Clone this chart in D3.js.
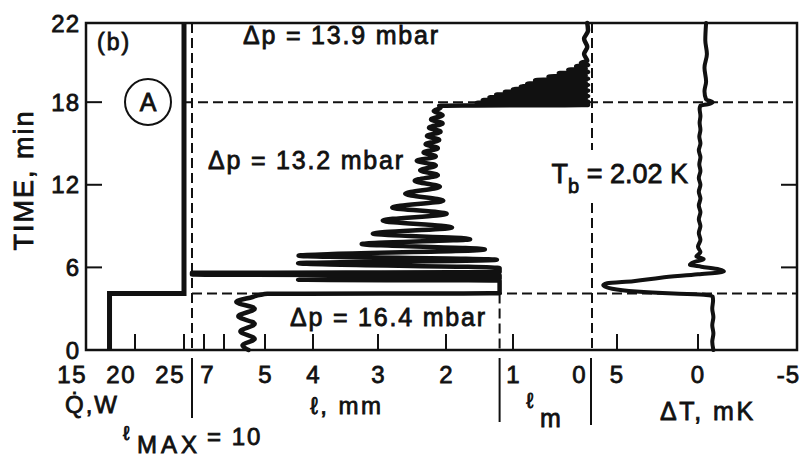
<!DOCTYPE html>
<html><head><meta charset="utf-8">
<script src="https://cdn.jsdelivr.net/npm/d3@7"></script>
<style>
html,body{margin:0;padding:0;background:#fff;}
svg{display:block;}
text{font-family:"Liberation Sans",Arial,sans-serif;font-weight:normal;fill:#111;stroke:#111;stroke-width:0.8px;}
</style></head><body>
<svg id="c" width="804" height="457"></svg>
<script>
// ---------- data ----------
const timeTicks = [0, 6, 12, 18, 23.75];
const timeTickLabels = ["0", "6", "12", "18", "22"];
const heaterTicks = [15, 20, 25];
const heaterTickLabels = ["15", "20", "25"];
const levelTicks = [7, 6, 5, 4, 3, 2];
const levelTickLabels = ["7", "", "5", "4", "3", "2"];
const meniscusTicks = [1, 0];
const meniscusTickLabels = ["1", "0"];
const deltaTTicks = [5, 0, -5];
const deltaTTickLabels = ["5", "0", "-5"];
const eventTimes = [4.1, 18];
const levelMax = 10;
const levelSplit = 1.2;

const heaterTime = [0, 4.1, 4.1, 23.75];
const heaterPower = [17.4, 17.4, 25, 25];

const levelTime = [0,0.35,0.8,1.35,1.9,2.45,3.0,3.5,3.85,4.02,4.08,4.12,5.05,5.1,5.15,5.42,5.48,5.6,5.66,5.95,
  6.3,6.55,6.85,7.3,7.7,8.05,8.45,8.9,9.4,9.9,10.35,10.85,11.35,11.85,12.3,
  12.7,13.05,13.4,13.75,14.05,14.35,14.65,14.95,15.25,15.55,15.85,16.15,16.45,16.75,17.05,17.35,17.6,17.74,
  17.8,17.85,17.95,18.05,18.15,18.25,18.35,18.45,18.55,18.65,18.75,18.85,18.95,19.05,19.15,19.25,19.35,19.45,
  19.6,19.7,19.85,19.95,20.1,20.2,20.35,20.45,20.6,20.7,20.85,21.0,21.5,22.0,22.6,23.2,23.75];
const levelValue = [5.4,5.55,5.25,5.6,5.25,5.65,5.25,5.7,5.3,5.1,4.95,1.2,1.2,4.31,1.2,1.2,10,10,1.2,1.2,
  4.31,1.24,4.3,1.42,3.25,1.64,3.08,1.91,2.93,1.99,2.79,2.04,2.6,2.09,2.46,
  2.12,2.38,2.15,2.43,2.15,2.33,2.12,2.3,2.1,2.28,2.08,2.25,2.05,2.22,2.05,2.18,2.08,2.1,
  0.05,0.05,1.54,0.05,1.45,0.08,1.35,0.05,1.25,0.08,1.12,0.05,1.0,0.08,0.9,0.05,0.82,0.08,
  0.72,0.05,0.55,0.08,0.42,0.05,0.3,0.08,0.2,0.05,0.14,0.06,0.1,0.06,0.1,0.05,0.06];

const deltaTTime = [0,0.6,1.2,1.8,2.4,3.0,3.6,3.9,4.0,4.1,4.25,4.45,4.7,4.85,5.0,5.25,5.5,5.7,5.85,6.05,6.2,6.4,6.6,6.8,
  7.1,7.5,8.0,8.5,9.0,9.5,10.0,10.5,11.0,11.5,12.0,12.5,13.0,13.5,14.0,14.5,15.0,15.5,16.0,16.5,17.0,17.5,17.75,
  17.85,18.0,18.2,18.8,19.5,20.5,21.5,22.5,23.75];
const deltaTValue = [-0.95,-0.88,-0.95,-0.88,-0.95,-0.88,-0.93,-0.9,-0.5,1.5,3.8,5.3,5.85,5.6,4.0,2.3,0,-1.6,-1.3,-0.2,0.5,0.2,-0.35,0.1,
  -0.15,0.0,-0.15,-0.05,-0.15,-0.05,-0.15,-0.05,-0.15,-0.05,-0.15,-0.05,-0.15,-0.08,-0.15,-0.05,-0.15,-0.08,-0.15,-0.1,-0.15,-0.1,-0.15,
  -0.6,-0.9,-0.5,-0.4,-0.5,-0.4,-0.55,-0.45,-0.5];

// ---------- layout ----------
const L = 86, R = 797, T = 23, B = 350;
const svg = d3.select("#c");
const y = d3.scaleLinear().domain([0, 23.75]).range([B, T]);
const xQ = d3.scaleLinear().domain([15, 25]).range([L, 184]);
const xL = d3.scaleLinear().domain([10, 7, 6, 5, 4, 3, 2, 1, 0]).range([192, 204, 224, 265, 313, 378, 446, 513, 592]);
const xT = d3.scaleLinear().domain([5, -5]).range([617, 779]);

const dash = "10,5";
function dline(x1, y1, x2, y2) {
  svg.append("line").attr("x1", x1).attr("x2", x2).attr("y1", y1).attr("y2", y2)
    .attr("stroke", "#111").attr("stroke-width", 2).attr("stroke-dasharray", dash);
}
dline(xL(levelMax), T, xL(levelMax), B);
dline(xL(0), T, xL(0), B);
dline(xL(levelSplit), y(eventTimes[0]), xL(levelSplit), B);
dline(183, y(eventTimes[1]), R, y(eventTimes[1]));
dline(xL(levelMax), y(eventTimes[0]), R, y(eventTimes[0]));

// frame
svg.append("rect").attr("x", L).attr("y", T).attr("width", R - L).attr("height", B - T)
  .attr("fill", "none").attr("stroke", "#111").attr("stroke-width", 2.5);

// left / right ticks
[6, 12, 18].forEach(v => {
  svg.append("line").attr("x1", L).attr("x2", L + 16).attr("y1", y(v)).attr("y2", y(v)).attr("stroke", "#111").attr("stroke-width", 2);
});
[6, 12].forEach(v => {
  svg.append("line").attr("x1", R - 16).attr("x2", R).attr("y1", y(v)).attr("y2", y(v)).attr("stroke", "#111").attr("stroke-width", 2);
});
timeTicks.forEach((v, i) => {
  svg.append("text").attr("x", 80).attr("y", y(v)).attr("dy", "0.36em").attr("text-anchor", "end")
    .attr("font-size", 24).attr("letter-spacing", 1).text(timeTickLabels[i]);
});
svg.append("text").attr("transform", "translate(33,180) rotate(-90)").attr("text-anchor", "middle")
  .attr("font-size", 27).attr("letter-spacing", 2).text("TIME, min");

// bottom ticks
function btick(x) {
  svg.append("line").attr("x1", x).attr("x2", x).attr("y1", B).attr("y2", B - 16).attr("stroke", "#111").attr("stroke-width", 2);
}
const labY = 383;
heaterTicks.forEach((v, i) => {
  if (v !== 15) btick(xQ(v));
  svg.append("text").attr("x", xQ(v) + 1).attr("y", labY).attr("text-anchor", "end").attr("font-size", 24).attr("letter-spacing", 1.5).text(heaterTickLabels[i]);
});
levelTicks.forEach((v, i) => {
  btick(xL(v));
  svg.append("text").attr("x", xL(v) + (v === 7 ? 3 : 0)).attr("y", labY).attr("text-anchor", "middle").attr("font-size", 24).text(levelTickLabels[i]);
});
meniscusTicks.forEach((v, i) => {
  if (v !== 0) btick(xL(v));
  svg.append("text").attr("x", xL(v) + (v === 0 ? -13 : 0)).attr("y", labY).attr("text-anchor", "middle").attr("font-size", 24).text(meniscusTickLabels[i]);
});
deltaTTicks.forEach((v, i) => {
  if (v !== -5) btick(xT(v));
  svg.append("text").attr("x", v === -5 ? R + 3 : xT(v)).attr("y", labY).attr("text-anchor", v === -5 ? "end" : "middle").attr("font-size", 24).attr("letter-spacing", 1).text(deltaTTickLabels[i]);
});

// separators below axis
[[xL(levelMax), 358, 418], [xL(levelSplit), 358, 422], [xL(0) - 1, 358, 425]].forEach(s => {
  svg.append("line").attr("x1", s[0]).attr("x2", s[0]).attr("y1", s[1]).attr("y2", s[2]).attr("stroke", "#111").attr("stroke-width", 2);
});

// axis titles
svg.append("text").attr("x", 65).attr("y", 413).attr("font-size", 24).attr("letter-spacing", 2).text("Q\u0307,W");
svg.append("text").attr("x", 310).attr("y", 414).attr("font-size", 24).attr("letter-spacing", 2.5).text("\u2113, mm");
const lm = svg.append("text").attr("x", 526).attr("y", 408).attr("font-size", 22);
lm.append("tspan").text("\u2113");
lm.append("tspan").attr("x", 540).attr("y", 427).attr("font-size", 25).text("m");
svg.append("text").attr("x", 660).attr("y", 420).attr("font-size", 25).attr("letter-spacing", 2.5).text("\u0394T, mK");
svg.append("text").attr("x", 123).attr("y", 440).attr("font-size", 20).text("\u2113");
svg.append("text").attr("x", 137).attr("y", 453).attr("font-size", 24).attr("letter-spacing", 4).text("MAX");
svg.append("text").attr("x", 207).attr("y", 445).attr("font-size", 24).attr("letter-spacing", 2).text("= 10");

// traces
const lineQ = d3.line().x(i => xQ(heaterPower[i])).y(i => y(heaterTime[i]));
svg.append("path").attr("d", lineQ(d3.range(heaterTime.length))).attr("fill", "none")
  .attr("stroke", "#111").attr("stroke-width", 5).attr("stroke-linejoin", "miter");
const lineL = d3.line().x(i => xL(levelValue[i])).y(i => y(levelTime[i])).curve(d3.curveMonotoneY);
svg.append("path").attr("d", lineL(d3.range(levelTime.length))).attr("fill", "none")
  .attr("stroke", "#111").attr("stroke-width", 4.5).attr("stroke-linejoin", "round").attr("stroke-linecap", "round");
const lineT = d3.line().x(i => xT(deltaTValue[i])).y(i => y(deltaTTime[i])).curve(d3.curveMonotoneY);
svg.append("path").attr("d", lineT(d3.range(deltaTTime.length))).attr("fill", "none")
  .attr("stroke", "#111").attr("stroke-width", 4).attr("stroke-linejoin", "round").attr("stroke-linecap", "round");

// annotations
svg.append("text").attr("x", 97).attr("y", 50).attr("font-size", 23).attr("letter-spacing", 2).text("(b)");
svg.append("circle").attr("cx", 148).attr("cy", 102).attr("r", 23).attr("fill", "#fff").attr("stroke", "#111").attr("stroke-width", 2);
svg.append("text").attr("x", 148).attr("y", 102).attr("dy", "0.36em").attr("text-anchor", "middle").attr("font-size", 25).text("A");

function dp(x, yy, val) {
  svg.append("text").attr("x", x).attr("y", yy).attr("font-size", 25).attr("letter-spacing", 1.8).text("\u0394p = " + val + " mbar");
}
dp(243, 44, "13.9");
dp(208, 169, "13.2");
dp(290, 326, "16.4");

svg.append("rect").attr("x", 548).attr("y", 150).attr("width", 142).attr("height", 48).attr("fill", "#fff").style("stroke", "none");
const tb = svg.append("text").attr("x", 688).attr("y", 183).attr("text-anchor", "end").attr("font-size", 27);
tb.append("tspan").text("T");
tb.append("tspan").attr("dy", 10).attr("font-size", 20).text("b");
tb.append("tspan").attr("dy", -10).text(" = 2.02 K");
</script>
</body></html>
